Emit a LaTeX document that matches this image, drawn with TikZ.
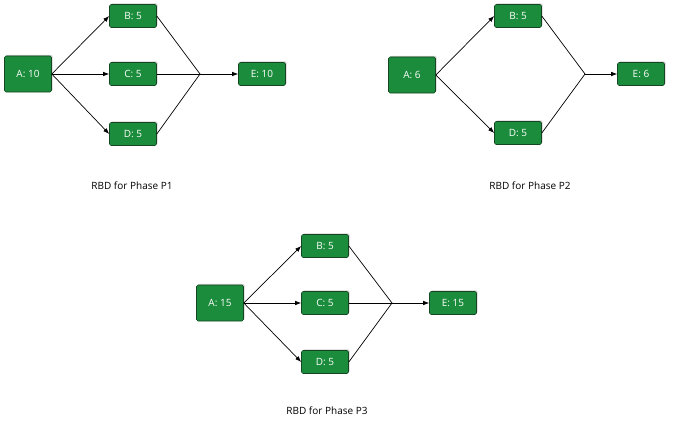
\documentclass[tikz,border=0pt]{standalone}
\usepackage{fontspec}
\setmainfont{Open Sans}
\usetikzlibrary{arrows.meta,shadows}
\definecolor{boxgreen}{RGB}{27,140,60}
\definecolor{boxedge}{RGB}{20,70,35}
\tikzset{
  blk/.style={draw=boxedge,fill=boxgreen,text=white,rounded corners=1.5,line width=0.6,
              minimum width=47,minimum height=23,inner sep=0,font=\fontsize{10}{12}\selectfont,
              drop shadow={shadow xshift=1.2,shadow yshift=-1.2,opacity=0.35}},
  big/.style={blk,minimum height=36},
  lnk/.style={line width=0.7},
  arr/.style={lnk,-{Latex[length=6,width=4.5]}},
  title/.style={font=\fontsize{10}{12}\selectfont}
}
\begin{document}
\begin{tikzpicture}[x=1pt,y=-1pt]
  \useasboundingbox (0,0) rectangle (696,436);

  % PHASE P1
  \node[big] (a1) at (28,74) {A: 10};
  \node[blk] (b1) at (133,16) {B: 5};
  \node[blk] (c1) at (133,74) {C: 5};
  \node[blk] (d1) at (133,134) {D: 5};
  \node[blk] (e1) at (262,74) {E: 10};
  \coordinate (j1) at (200,74);
  \foreach \n in {b1,c1,d1} {
    \draw[arr] (a1.east) -- (\n.west);
    \draw[lnk] (\n.east) -- (j1);
  }
  \draw[arr] (j1) -- (e1.west);
  \node[title] (t1) at (132,186) {RBD for Phase P1};

  % PHASE P2
  \node[big] (a2) at (412,75) {A: 6};
  \node[blk] (b2) at (518,16) {B: 5};
  \node[blk] (d2) at (518,133) {D: 5};
  \node[blk] (e2) at (641,74) {E: 6};
  \coordinate (j2) at (585,74);
  \foreach \n in {b2,d2} {
    \draw[arr] (a2.east) -- (\n.west);
    \draw[lnk] (\n.east) -- (j2);
  }
  \draw[arr] (j2) -- (e2.west);
  \node[title] (t2) at (530,186) {RBD for Phase P2};

  % PHASE P3
  \node[big] (a3) at (220,303) {A: 15};
  \node[blk] (b3) at (325,246) {B: 5};
  \node[blk] (c3) at (325,303) {C: 5};
  \node[blk] (d3) at (325,362) {D: 5};
  \node[blk] (e3) at (453,303) {E: 15};
  \coordinate (j3) at (392,303);
  \foreach \n in {b3,c3,d3} {
    \draw[arr] (a3.east) -- (\n.west);
    \draw[lnk] (\n.east) -- (j3);
  }
  \draw[arr] (j3) -- (e3.west);
  \node[title] (t3) at (327,411) {RBD for Phase P3};
\end{tikzpicture}
\end{document}
